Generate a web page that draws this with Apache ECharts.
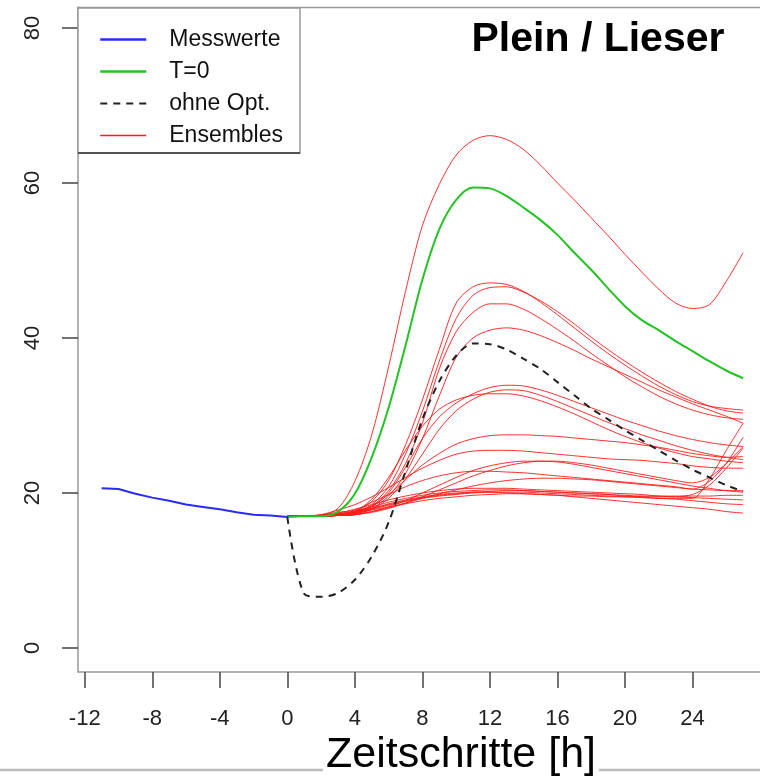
<!DOCTYPE html>
<html>
<head>
<meta charset="utf-8">
<script src="https://cdn.jsdelivr.net/npm/echarts@6/dist/echarts.min.js"></script>
<style>
  html, body { margin: 0; padding: 0; background: #fff; }
  #chart { width: 760px; height: 777px; }
</style>
</head>
<body>
<div id="chart"></div>
<script>
// Zeitachsen
var measHours = [-11, -10, -9, -8, -7, -6, -5, -4, -3, -2, -1, 0];
var hours = [0, 1, 2, 3, 4, 5, 6, 7, 8, 9, 10, 11, 12, 13, 14, 15, 16, 17, 18, 19, 20, 21, 22, 23, 24, 25, 26, 27];
var xTicks = [-12, -8, -4, 0, 4, 8, 12, 16, 20, 24];
var yTicks = [0, 20, 40, 60, 80];

// Messwerte (blau)
var messwerte = [20.6, 20.5, 19.9, 19.4, 19.0, 18.5, 18.2, 17.9, 17.5, 17.2, 17.1, 16.9];
// T=0 (gruen)
var t0 = [16.9, 17.0, 17.0, 17.6, 19.9, 24.6, 31.0, 39.0, 47.5, 54.0, 57.8, 59.4, 59.3, 58.3, 56.8, 55.2, 53.3, 51.0, 48.8, 46.4, 44.1, 42.3, 41.0, 39.6, 38.3, 37.0, 35.8, 34.8];
// ohne Opt. (gestrichelt)
var ohneOpt = [16.9, 7.0, 6.6, 7.1, 8.8, 11.8, 16.2, 22.8, 29.5, 34.4, 37.7, 39.3, 39.2, 38.5, 37.3, 36.0, 34.3, 32.6, 30.9, 29.5, 28.1, 26.8, 25.5, 24.2, 23.0, 22.0, 21.0, 20.2];

// Ensembles (rot)
var ens1 = [17, 17, 17.1, 18.0, 21.5, 27.5, 36.3, 46.0, 54.5, 59.8, 63.6, 65.5, 66.1, 65.6, 64.3, 62.3, 60.0, 57.8, 55.5, 53.2, 50.8, 48.5, 46.3, 44.5, 43.8, 44.3, 47.3, 51.0];
var ens2 = [17, 17, 17.0, 17.2, 17.6, 18.9, 21.6, 26.2, 32.0, 38.5, 44.5, 46.6, 47.1, 46.9, 46.0, 44.6, 43.0, 41.3, 39.6, 38.0, 36.5, 35.1, 33.8, 32.7, 31.8, 31.2, 30.9, 30.7];
var ens3 = [17, 17, 17.0, 17.2, 17.5, 18.5, 20.8, 25.0, 30.5, 37.0, 42.5, 45.5, 46.5, 46.6, 45.9, 44.8, 43.4, 41.8, 40.1, 38.5, 37.0, 35.6, 34.3, 33.1, 32.1, 31.2, 30.6, 30.3];
var ens4 = [17, 17, 17.0, 17.1, 17.4, 18.3, 20.3, 23.8, 29.0, 36.0, 40.8, 43.3, 44.4, 44.4, 43.7, 42.5, 41.1, 39.6, 38.0, 36.5, 35.0, 33.7, 32.5, 31.5, 30.7, 30.1, 29.7, 29.5];
var ens5 = [17, 17, 17.0, 17.1, 17.3, 18.0, 19.6, 22.5, 27.0, 32.5, 37.5, 40.0, 41.0, 41.3, 41.0, 40.3, 39.4, 38.4, 37.3, 36.3, 35.3, 34.3, 33.3, 32.4, 31.5, 30.7, 29.9, 29.0];
var ens6 = [17, 17, 17.0, 17.1, 17.3, 18.2, 20.0, 23.3, 27.0, 29.8, 31.6, 32.8, 33.6, 33.9, 33.8, 33.3, 32.6, 31.8, 31.0, 30.2, 29.4, 28.7, 28.0, 27.4, 26.9, 26.5, 26.2, 26.0];
var ens7 = [17, 17, 17.0, 17.1, 17.2, 17.9, 19.3, 21.8, 25.0, 28.2, 30.6, 32.1, 33.0, 33.3, 33.2, 32.6, 31.8, 30.9, 30.0, 29.1, 28.3, 27.5, 26.8, 26.1, 25.5, 25.0, 24.6, 24.3];
var ens8 = [17, 17, 17.1, 17.3, 17.6, 19.2, 22.0, 25.5, 28.6, 30.8, 32.0, 32.6, 32.8, 32.8, 32.5, 31.9, 31.1, 30.2, 29.2, 28.2, 27.3, 26.5, 25.8, 25.2, 24.7, 24.4, 24.1, 23.9];
var ens9 = [17, 17, 17.1, 17.2, 17.6, 18.3, 19.8, 21.7, 23.6, 25.1, 26.3, 27.0, 27.4, 27.5, 27.5, 27.4, 27.3, 27.1, 26.9, 26.7, 26.5, 26.2, 25.9, 25.5, 25.1, 24.8, 24.6, 24.7];
var ens10 = [17, 17, 17.2, 17.8, 18.5, 19.5, 20.7, 22.0, 23.2, 24.2, 25.0, 25.4, 25.5, 25.5, 25.4, 25.2, 25.0, 24.8, 24.6, 24.4, 24.3, 24.2, 24.0, 23.8, 23.5, 23.3, 23.2, 23.2];
var ens11 = [17, 17, 17.0, 17.1, 17.2, 17.6, 18.2, 19.0, 20.0, 21.0, 22.0, 22.9, 23.5, 23.9, 24.1, 24.1, 24.0, 23.7, 23.3, 22.9, 22.5, 22.1, 21.7, 21.3, 20.9, 20.6, 20.3, 20.1];
var ens12 = [17, 17, 17.0, 17.1, 17.2, 17.5, 18.0, 18.7, 19.5, 20.4, 21.3, 22.2, 22.9, 23.5, 23.9, 24.1, 24.1, 23.9, 23.6, 23.2, 22.8, 22.4, 22.0, 21.6, 21.3, 22.0, 23.8, 26.0];
var ens13 = [17, 17, 17.0, 17.1, 17.2, 17.6, 18.1, 18.7, 19.3, 19.9, 20.4, 20.9, 21.3, 21.6, 21.8, 21.9, 21.9, 21.8, 21.7, 21.5, 21.3, 21.1, 20.9, 20.7, 20.5, 20.4, 20.3, 20.3];
var ens14 = [17, 17, 17.2, 17.5, 17.8, 18.8, 19.8, 20.8, 21.6, 22.2, 22.6, 22.8, 22.8, 22.7, 22.6, 22.4, 22.2, 22.0, 21.8, 21.6, 21.4, 21.2, 21.0, 20.8, 20.5, 21.5, 23.8, 27.2];
var ens15 = [17, 17, 17.1, 17.3, 17.6, 18.0, 18.5, 19.0, 19.4, 19.7, 19.9, 20.1, 20.2, 20.3, 20.3, 20.2, 20.1, 20.0, 19.9, 19.8, 19.6, 19.5, 19.3, 19.2, 19.0, 18.8, 18.6, 18.5];
var ens16 = [17, 17, 17.0, 17.2, 17.4, 17.8, 18.2, 18.6, 19.0, 19.3, 19.5, 19.7, 19.8, 19.9, 19.9, 19.8, 19.7, 19.5, 19.3, 19.1, 18.9, 18.7, 18.5, 18.3, 18.1, 17.9, 17.6, 17.4];
var ens17 = [17, 17, 17.1, 17.4, 17.9, 18.5, 19.1, 19.6, 20.0, 20.3, 20.5, 20.6, 20.6, 20.6, 20.5, 20.4, 20.3, 20.2, 20.1, 20.0, 19.9, 19.8, 19.6, 19.5, 19.4, 19.3, 19.2, 19.1];
var ens18 = [17, 17, 17.0, 17.2, 17.5, 17.9, 18.4, 18.9, 19.3, 19.6, 19.8, 20.0, 20.1, 20.1, 20.1, 20.0, 19.9, 19.8, 19.7, 19.6, 19.5, 19.4, 19.3, 19.3, 19.3, 21.8, 25.5, 29.0];
var ens19 = [17, 17, 17.1, 17.3, 17.7, 18.2, 18.8, 19.3, 19.7, 20.0, 20.2, 20.3, 20.4, 20.4, 20.3, 20.2, 20.1, 20.0, 19.9, 19.8, 19.7, 19.6, 19.6, 19.6, 19.8, 21.0, 23.2, 25.8];
var ens20 = [17, 17, 17.0, 17.2, 17.5, 18.0, 18.6, 19.1, 19.5, 19.8, 20.0, 20.1, 20.1, 20.0, 19.9, 19.8, 19.7, 19.6, 19.6, 19.5, 19.5, 19.5, 19.5, 19.5, 19.6, 19.6, 19.7, 19.7];
var ensembles = [ens1, ens2, ens3, ens4, ens5, ens6, ens7, ens8, ens9, ens10,
                 ens11, ens12, ens13, ens14, ens15, ens16, ens17, ens18, ens19, ens20];

var FONT = 'Liberation Sans';

function pairs(xs, ys) {
    var out = [];
    for (var i = 0; i < xs.length; i++) {
        out.push([xs[i], ys[i]]);
    }
    return out;
}

var chart = echarts.init(document.getElementById('chart'));

var series = [];
ensembles.forEach(function (vals) {
    series.push({
        name: 'Ensembles',
        type: 'line',
        data: pairs(hours, vals),
        symbol: 'none',
        smooth: 0.3,
        lineStyle: { color: '#ff1a1a', width: 1, opacity: 0.9 },
        itemStyle: { color: '#ff1a1a' },
        z: 2
    });
});
series.push({
    name: 'T=0',
    type: 'line',
    data: pairs(hours, t0),
    symbol: 'none',
    smooth: 0.3,
    lineStyle: { color: '#22c322', width: 2 },
    itemStyle: { color: '#22c322' },
    z: 3
});
series.push({
    name: 'ohne Opt.',
    type: 'line',
    data: pairs(hours, ohneOpt),
    symbol: 'none',
    smooth: 0.3,
    lineStyle: { color: '#222', width: 2, type: [7, 6] },
    itemStyle: { color: '#222' },
    z: 4
});
series.push({
    name: 'Messwerte',
    type: 'line',
    data: pairs(measHours, messwerte),
    symbol: 'none',
    lineStyle: { color: '#2a2aff', width: 2 },
    itemStyle: { color: '#2a2aff' },
    z: 4
});

var option = {
    animation: false,
    backgroundColor: '#fff',
    textStyle: { fontFamily: FONT },
    grid: { left: 78, right: 0, top: 7, bottom: 105, containLabel: false },
    xAxis: {
        type: 'value',
        min: -12.4,
        max: 28,
        axisLine: { show: true, onZero: false, lineStyle: { color: '#999', width: 1.5 } },
        axisTick: { show: true, length: 16, customValues: xTicks, lineStyle: { color: '#444', width: 1.5 } },
        axisLabel: { customValues: xTicks, margin: 36, fontSize: 22, color: '#222', fontFamily: FONT },
        splitLine: { show: false }
    },
    yAxis: {
        type: 'value',
        min: -3.1,
        max: 82.7,
        axisLine: { show: true, onZero: false, lineStyle: { color: '#999', width: 1.5 } },
        axisTick: { show: true, length: 16, customValues: yTicks, lineStyle: { color: '#444', width: 1.5 } },
        axisLabel: { customValues: yTicks, rotate: 90, margin: 34, fontSize: 22, color: '#222', fontFamily: FONT },
        splitLine: { show: false }
    },
    legend: {
        orient: 'vertical',
        left: 99,
        top: 28,
        padding: 0,
        itemWidth: 46,
        itemHeight: 20,
        itemGap: 9,
        z: 10,
        itemStyle: { opacity: 0 },
        data: [
            { name: 'Messwerte', lineStyle: { width: 2.5, color: '#2a2aff' } },
            { name: 'T=0', lineStyle: { width: 2.5, color: '#22c322' } },
            { name: 'ohne Opt.', lineStyle: { width: 2, color: '#222' } },
            { name: 'Ensembles', lineStyle: { width: 1.5, color: '#ff1a1a', opacity: 1 } }
        ],
        textStyle: { fontSize: 23, color: '#111', fontFamily: FONT, padding: [0, 0, 0, 18] }
    },
    graphic: [
        { type: 'line', z: 1, shape: { x1: 78, y1: 7.5, x2: 760, y2: 7.5 }, style: { stroke: '#999', lineWidth: 1.5 } },
        { type: 'rect', z: 5, shape: { x: 78, y: 8, width: 222, height: 145 }, style: { fill: '#fff', stroke: '#999', lineWidth: 1.5 } },
        { type: 'line', z: 6, shape: { x1: 78, y1: 153, x2: 300, y2: 153 }, style: { stroke: '#333', lineWidth: 1.5 } },
        { type: 'line', z: 1, shape: { x1: 0, y1: 770, x2: 760, y2: 770 }, style: { stroke: '#bbb', lineWidth: 2.5 } },
        {
            type: 'text', z: 6, x: 461, y: 755,
            style: {
                text: 'Zeitschritte [h]', fontSize: 43, fontFamily: FONT, fill: '#000',
                align: 'center', verticalAlign: 'middle', backgroundColor: '#fff', padding: [0, 3]
            }
        },
        {
            type: 'text', z: 6, x: 598, y: 40,
            style: {
                text: 'Plein / Lieser', fontSize: 41, fontWeight: 'bold', fontFamily: FONT, fill: '#000',
                align: 'center', verticalAlign: 'middle'
            }
        }
    ],
    series: series
};

chart.setOption(option);
</script>
</body>
</html>
